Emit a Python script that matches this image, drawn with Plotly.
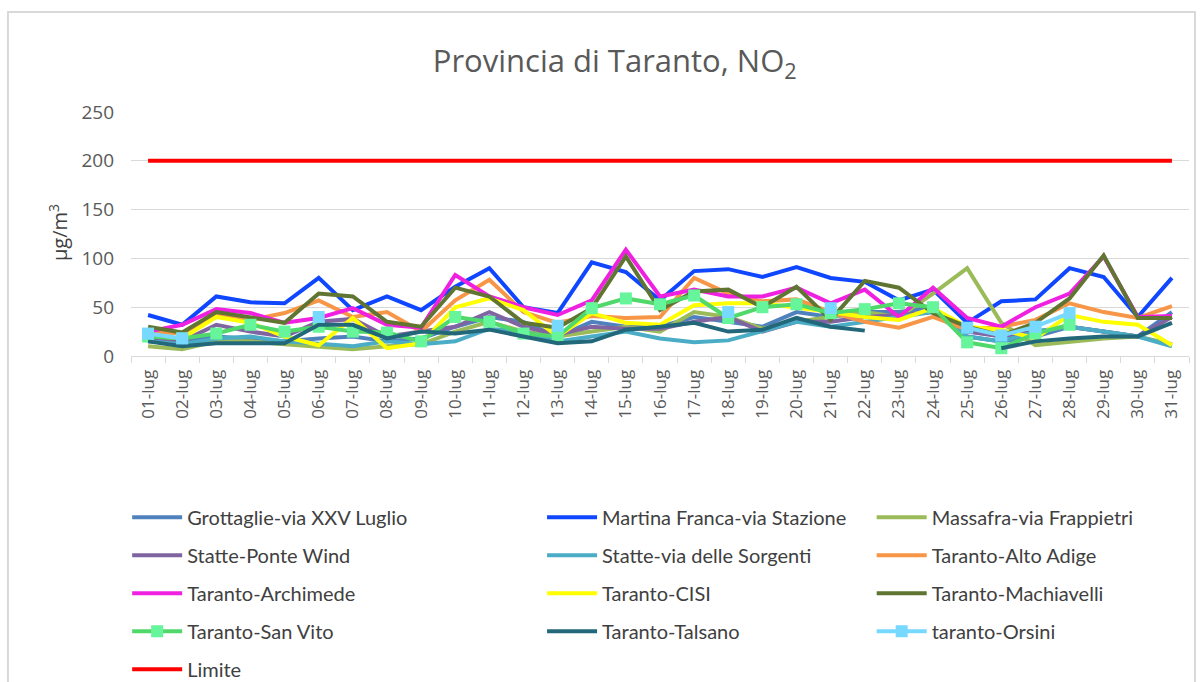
import plotly.graph_objects as go

days = [f"{d:02d}-lug" for d in range(1, 32)]

grottaglie = [20, 15, 20, 18, 15, 18, 20, 15, 18, 30, 40, 35, 20, 35, 30, 30, 40, 35, 30, 45, 40, 45, 45, 50, 20, 15, 20, 30, 25, 20, 45]
martina = [42, 32, 61, 55, 54, 80, 47, 61, 47, 71, 90, 50, 44, 96, 86, 57, 87, 89, 81, 91, 80, 76, 57, 68, 34, 56, 58, 90, 81, 40, 80]
massafra = [10, 7, 15, 15, 12, 10, 7, 10, 12, 25, 35, 25, 20, 25, 30, 25, 45, 40, 28, 35, 40, 45, 40, 64, 90, 34, 11, 15, 18, 20, 12]
statte_pw = [18, 15, 32, 25, 20, 35, 38, 20, 25, 30, 45, 30, 22, 30, 28, 28, 35, 40, 25, 35, 35, 40, 42, 45, 25, 20, 25, 30, 25, 20, 40]
statte_sorg = [15, 12, 18, 20, 15, 12, 10, 15, 12, 15, 28, 25, 15, 20, 25, 18, 14, 16, 25, 35, 30, 35, 40, 45, 20, 15, 25, 30, 25, 20, 10]
alto_adige = [25, 23, 42, 37, 44, 57, 40, 45, 25, 57, 78, 45, 34, 41, 39, 40, 80, 64, 56, 58, 45, 35, 29, 40, 27, 30, 37, 54, 45, 39, 51]
archimede = [25, 32, 48, 44, 34, 39, 49, 32, 29, 83, 61, 50, 42, 57, 109, 61, 68, 61, 61, 70, 54, 68, 40, 70, 39, 30, 50, 64, 102, 40, 41]
cisi = [21, 18, 40, 34, 20, 11, 39, 8, 13, 50, 59, 47, 20, 44, 34, 32, 52, 54, 54, 50, 45, 40, 37, 49, 30, 27, 18, 42, 35, 32, 11]
machiavelli = [30, 24, 45, 39, 34, 64, 61, 35, 30, 70, 61, 34, 29, 49, 102, 47, 66, 68, 50, 71, 37, 77, 70, 44, 30, 21, 34, 59, 103, 39, 39]
san_vito = [20, 18, 23, 32, 25, 30, 25, 24, 15, 40, 35, 23, 20, 49, 59, 53, 62, 39, 50, 53, 44, 48, 54, 50, 14, 8, 23, 32, None, None, None]
talsano = [15, 10, 13, 13, 13, 32, 32, 18, 25, 23, 27, 20, 13, 15, 27, 30, 34, 25, 27, 39, 30, 26, None, None, None, 8, 15, 18, 20, 20, 34]
orsini = [23, 18, None, None, None, 40, None, None, None, None, None, None, 31, None, None, None, None, 45, None, None, 49, None, None, None, 29, 21, 30, 44, None, None, None]
limite = [200] * 31

series = [
    ("Grottaglie-via XXV Luglio", grottaglie, "#4f81bd", None),
    ("Martina Franca-via Stazione", martina, "#0f46ff", None),
    ("Massafra-via Frappietri", massafra, "#9bbb59", None),
    ("Statte-Ponte Wind", statte_pw, "#8064a2", None),
    ("Statte-via delle Sorgenti", statte_sorg, "#4bacc6", None),
    ("Taranto-Alto Adige", alto_adige, "#f79646", None),
    ("Taranto-Archimede", archimede, "#f020e0", None),
    ("Taranto-CISI", cisi, "#ffff00", None),
    ("Taranto-Machiavelli", machiavelli, "#5f7531", None),
    ("Taranto-San Vito", san_vito, "#50d86a", "#66f59a"),
    ("Taranto-Talsano", talsano, "#22687a", None),
    ("taranto-Orsini", orsini, "#77d9ff", "#77d9ff"),
    ("Limite", limite, "#ff0000", None),
]

# legend columns as in the original (three columns, filled row by row)
legend_of = {0: "legend", 1: "legend2", 2: "legend3"}

fig = go.Figure()
for i, (name, vals, color, mcolor) in enumerate(series):
    tr = dict(
        x=days, y=vals, name=name,
        line=dict(color=color, width=4),
        legend=legend_of[i % 3],
        legendgroup=name,
        connectgaps=False,
    )
    if mcolor:
        tr["mode"] = "lines+markers"
        tr["marker"] = dict(symbol="square", size=12, color=mcolor)
    else:
        tr["mode"] = "lines"
    fig.add_trace(go.Scatter(**tr))

leg_font = dict(family="Lato, Open Sans, sans-serif", size=20, color="#404040")
leg_common = dict(
    orientation="v", xanchor="left", yanchor="top",
    xref="container", yref="container",
    font=leg_font, itemwidth=50, tracegroupgap=9,
    bgcolor="rgba(0,0,0,0)", traceorder="grouped",
)
fig.update_layout(
    width=1203, height=682,
    margin=dict(l=131, r=14, t=112, b=326, autoexpand=False),
    paper_bgcolor="white", plot_bgcolor="white",
    title=dict(
        text="Provincia di Taranto, NO<sub>2</sub>",
        x=0.511, xanchor="center", y=0.91, yanchor="middle",
        font=dict(family="Open Sans, sans-serif", size=31, color="#595959"),
    ),
    showlegend=True,
    legend=dict(x=0.1057, y=0.27, **leg_common),
    legend2=dict(x=0.4506, y=0.27, **leg_common),
    legend3=dict(x=0.7246, y=0.27, **leg_common),
    xaxis=dict(
        type="category", range=[-0.5, 30.5], tickangle=-90, tickson="boundaries",
        ticks="outside", ticklen=6, tickcolor="#d9d9d9",
        showline=True, linecolor="#d9d9d9", linewidth=1,
        showgrid=False, automargin=False, ticklabelstandoff=6,
        tickfont=dict(family="Open Sans, sans-serif", size=17, color="#595959"),
    ),
    yaxis=dict(
        range=[0, 250], dtick=50, automargin=False,
        gridcolor="#d9d9d9", gridwidth=1, zeroline=False,
        tickfont=dict(family="Open Sans, sans-serif", size=19, color="#595959"),
        ticks="", ticklabelstandoff=16,
    ),
    annotations=[dict(
        text="µg/m<sup>3</sup>", textangle=-90, showarrow=False,
        xref="paper", yref="paper", x=-0.069, y=0.508,
        xanchor="center", yanchor="middle",
        font=dict(family="Open Sans, sans-serif", size=20, color="#404040"),
    )],
    shapes=[dict(
        type="rect", xref="paper", yref="paper",
        x0=-0.1163, x1=1.0057, y0=-1.6, y1=1.4098,
        line=dict(color="#d9d9d9", width=2), layer="below",
    )],
)

fig.write_html("out.html", config={"displayModeBar": False},
               post_script="document.body.style.margin='0';")
